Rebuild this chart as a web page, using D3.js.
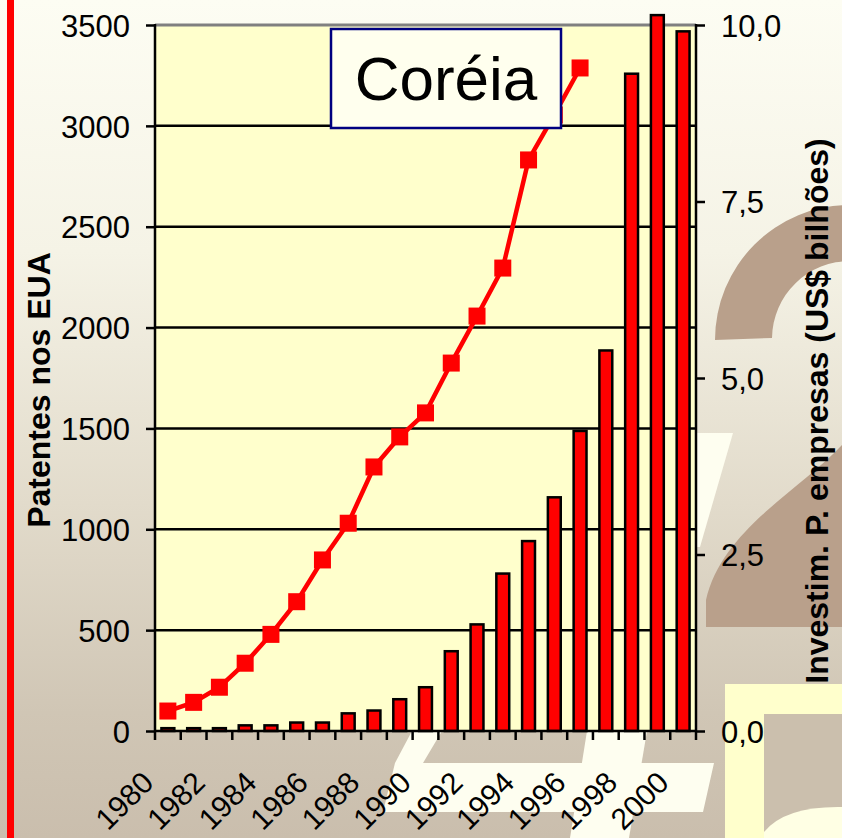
<!DOCTYPE html>
<html><head><meta charset="utf-8">
<script src="https://cdn.jsdelivr.net/npm/d3@7"></script>
<style>html,body{margin:0;padding:0;overflow:hidden;background:#fff}</style>
</head><body>
<svg id="c" width="842" height="838"></svg>
<script>
// ---- data ----
const years = [1980,1981,1982,1983,1984,1985,1986,1987,1988,1989,1990,1991,1992,1993,1994,1995,1996,1997,1998,1999,2000];
const patents = [99,142,217,336,479,641,848,1030,1309,1458,1577,1824,2057,2295,2831,3054,3287,null,null,null,null];
const investment = [0.04,0.04,0.04,0.08,0.08,0.12,0.12,0.25,0.29,0.45,0.62,1.13,1.51,2.23,2.69,3.31,4.25,5.39,9.31,10.14,9.91];
const leftTicks = [0,500,1000,1500,2000,2500,3000,3500];
const rightTicks = [0,2.5,5,7.5,10];
const xLabelYears = [1980,1982,1984,1986,1988,1990,1992,1994,1996,1998,2000];
const title = "Coréia";
const leftTitle = "Patentes nos EUA";
const rightTitle = "Investim. P. empresas (US$ bilhões)";

const svg = d3.select("#c");
const W = 842, H = 838;
const P = {l:155, r:696, t:25, b:731};

// ---- background ----
const defs = svg.append("defs");
const grad = defs.append("linearGradient").attr("id","bg").attr("x1",0).attr("y1",0).attr("x2",0).attr("y2",1);
[[0,"#fdfdf3"],[0.3,"#f5f3e6"],[0.6,"#e2dbcb"],[0.85,"#d0c6b5"],[1,"#cabead"]]
  .forEach(([o,c])=>grad.append("stop").attr("offset",o).attr("stop-color",c));
svg.append("rect").attr("width",W).attr("height",H).attr("fill","url(#bg)");

const deco = svg.append("g");
const brown = "#b9a08b", cream = "#fefef0";
// brown "2"
deco.append("path").attr("fill",brown)
  .attr("d","M715,340 A135,135 0 0 1 985,340 L928,340 A78,78 0 0 0 772,338 Z");
deco.append("path").attr("fill",brown)
  .attr("d","M842,445 C800,490 722,530 706,600 L706,627 L842,627 Z");
// white sliver at right
deco.append("path").attr("fill",cream).attr("d","M690,433 L733,433 L700,547 L690,547 Z");
// white "4" below axis
deco.append("path").attr("fill",cream).attr("d","M412,731 L442,731 L423,763 L714,763 L703,812 L383,812 L395,763 Z");
deco.append("path").attr("fill",cream).attr("d","M587,731 L647,731 L629,838 L570,838 Z");
// yellow block bottom right
deco.append("rect").attr("x",725).attr("y",684).attr("width",117).attr("height",154).attr("fill","#ffffcc");
deco.append("rect").attr("x",764).attr("y",714).attr("width",78).attr("height",124).attr("fill","#cbbfad");
deco.append("path").attr("fill","#ffffe4").attr("d","M764,832 Q785,806 842,807 L842,838 L764,838 Z");
// red vertical line
deco.append("rect").attr("x",7).attr("y",0).attr("width",7).attr("height",H).attr("fill","#ff0000");

// ---- scales ----
const x = d3.scaleBand().domain(years).range([P.l,P.r]).paddingInner(0.5).paddingOuter(0.25);
const yL = d3.scaleLinear().domain([0,3500]).range([P.b,P.t]);
const yR = d3.scaleLinear().domain([0,10]).range([P.b,P.t]);
const step = x.step();
const cx = d => x(d) + x.bandwidth()/2;

// plot area
svg.append("rect").attr("x",P.l).attr("y",P.t).attr("width",P.r-P.l).attr("height",P.b-P.t).attr("fill","#ffffcc");

// gridlines
svg.append("g").selectAll("line").data(leftTicks.filter(v=>v>0)).join("line")
  .attr("x1",P.l).attr("x2",P.r).attr("y1",d=>yL(d)).attr("y2",d=>yL(d))
  .attr("stroke",d=>d===3500?"#808080":"#000").attr("stroke-width",d=>d===3500?3:2.5);

// bars
svg.append("g").selectAll("rect").data(years).join("rect")
  .attr("x",d=>x(d)).attr("width",x.bandwidth())
  .attr("y",(d,i)=>yR(investment[i])).attr("height",(d,i)=>yR(0)-yR(investment[i]))
  .attr("fill","#ff0000").attr("stroke","#000").attr("stroke-width",2.5);

// axes
const fmtR = v => d3.format(".1f")(v).replace(".",",");
const axL = svg.append("g").attr("transform",`translate(${P.l},0)`)
  .call(d3.axisLeft(yL).tickValues(leftTicks).tickSize(9).tickSizeOuter(0).tickPadding(16).tickFormat(d3.format("d")));
const axR = svg.append("g").attr("transform",`translate(${P.r},0)`)
  .call(d3.axisRight(yR).tickValues(rightTicks).tickSize(9).tickSizeOuter(0).tickPadding(16).tickFormat(fmtR));
[axL,axR].forEach(a=>{
  a.select(".domain").remove();
  a.selectAll(".tick line").attr("stroke","#000").attr("stroke-width",2.5);
  a.selectAll(".tick text").attr("font-family","Liberation Sans, Arial, sans-serif").attr("font-size",31).attr("fill","#000").attr("dy","0.36em");
});
svg.append("line").attr("x1",P.l).attr("x2",P.l).attr("y1",P.t-1).attr("y2",P.b+1).attr("stroke","#000").attr("stroke-width",2.5);
svg.append("line").attr("x1",P.r).attr("x2",P.r).attr("y1",P.t-1).attr("y2",P.b+1).attr("stroke","#000").attr("stroke-width",2.5);
svg.append("line").attr("x1",P.l).attr("x2",P.r).attr("y1",P.b).attr("y2",P.b).attr("stroke","#000").attr("stroke-width",2.5);
// category ticks at boundaries
const bounds = years.map(d=>x(d)-step*0.25).concat([P.r]);
svg.append("g").selectAll("line").data(bounds).join("line")
  .attr("x1",d=>d).attr("x2",d=>d).attr("y1",P.b).attr("y2",P.b+9)
  .attr("stroke","#000").attr("stroke-width",2.5);
// x labels
svg.append("g").selectAll("text").data(xLabelYears).join("text")
  .attr("transform",d=>`translate(${cx(d)-20},777) rotate(-45)`)
  .attr("text-anchor","end").attr("dy","0.35em")
  .attr("font-family","Liberation Sans, Arial, sans-serif").attr("font-size",30).attr("fill","#000")
  .text(d=>d);

// line series
const pts = years.map((d,i)=>({d,v:patents[i]})).filter(p=>p.v!=null);
svg.append("path").datum(pts)
  .attr("d",d3.line().x(p=>cx(p.d)).y(p=>yL(p.v)))
  .attr("fill","none").attr("stroke","#ff0000").attr("stroke-width",4.5);
svg.append("g").selectAll("rect").data(pts).join("rect")
  .attr("x",p=>cx(p.d)-8.5).attr("y",p=>yL(p.v)-8.5).attr("width",17).attr("height",17).attr("fill","#ff0000");

// axis titles
svg.append("text").attr("transform","translate(50,390) rotate(-90)").attr("text-anchor","middle")
  .attr("font-family","Liberation Sans, Arial, sans-serif").attr("font-weight","bold").attr("font-size",32).attr("fill","#000")
  .text(leftTitle);
svg.append("text").attr("transform","translate(828,411) rotate(-90)").attr("text-anchor","middle")
  .attr("font-family","Liberation Sans, Arial, sans-serif").attr("font-weight","bold").attr("font-size",32).attr("fill","#000")
  .text(rightTitle);

// title box
svg.append("rect").attr("x",331).attr("y",29).attr("width",230).attr("height",99)
  .attr("fill","#ffffee").attr("stroke","#000080").attr("stroke-width",2.5);
svg.append("text").attr("x",446).attr("y",100).attr("text-anchor","middle")
  .attr("font-family","Liberation Sans, Arial, sans-serif").attr("font-size",62).attr("fill","#000")
  .text(title);
</script>
</body></html>
